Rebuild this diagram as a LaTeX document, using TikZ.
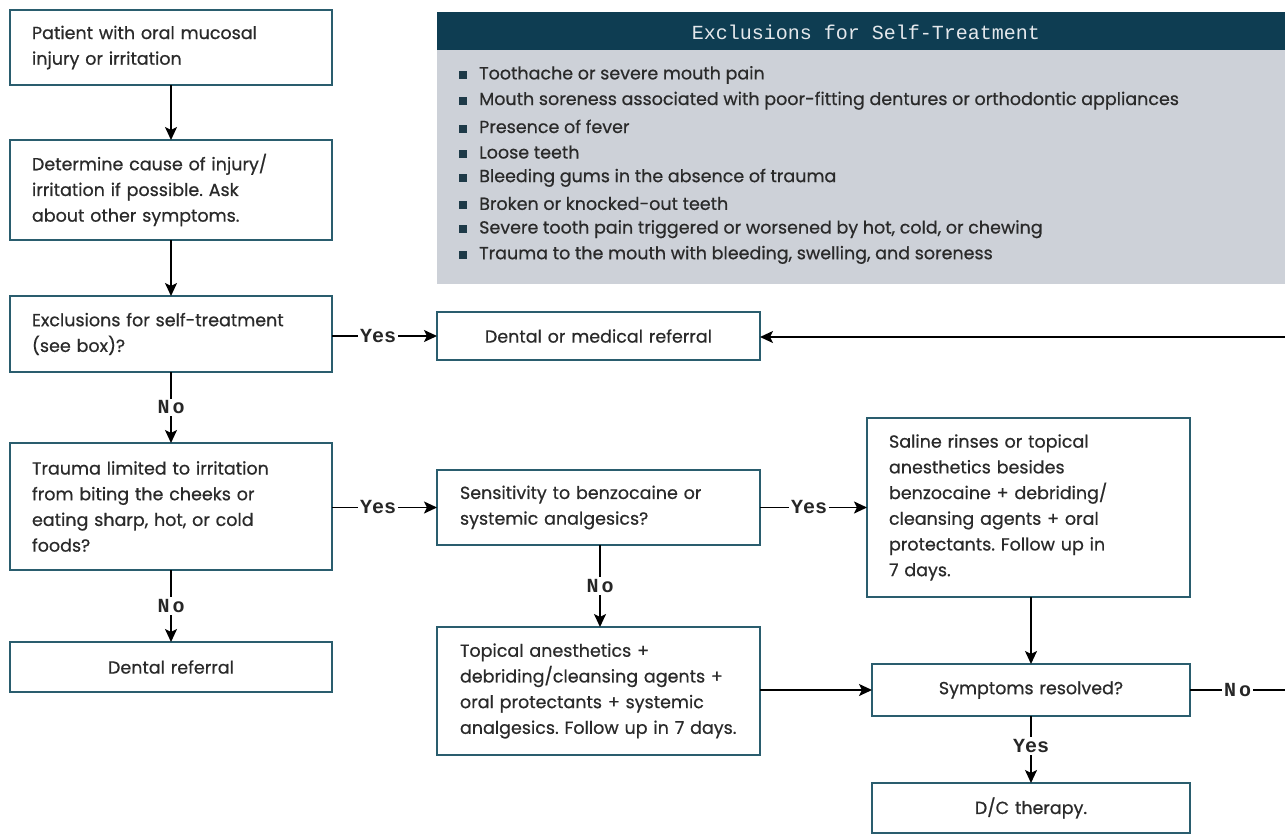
\documentclass[tikz,border=0pt]{standalone}
\usepackage{fontspec}
\usetikzlibrary{arrows.meta}
\setmainfont{Poppins}[FakeBold=0.6]
\newfontfamily\monofam{Liberation Mono}
\definecolor{boxline}{HTML}{2A5D6E}
\definecolor{headfill}{HTML}{0E3D52}
\definecolor{panelfill}{HTML}{CDD1D8}
\definecolor{txt}{HTML}{2A2A2A}
\definecolor{bulletc}{HTML}{1E3A48}
\definecolor{headtxt}{HTML}{E4E8EC}
\definecolor{labtxt}{HTML}{262626}
\newcommand\bodyfont{\frenchspacing\fontsize{17.5}{25.7}\selectfont}
\newcommand\sqbullet{\textcolor{bulletc}{\rule[0.5pt]{8pt}{8pt}}}
\begin{document}
\begin{tikzpicture}[x=1pt,y=-1pt,
  box/.style={draw=boxline, line width=1.8pt, fill=white, text=txt,
    anchor=north west, outer sep=0pt, inner xsep=22pt, inner ysep=0pt,
    font=\bodyfont, align=left},
  cbox/.style={box, align=center},
  midbox/.style={box, minimum width=323pt, inner xsep=23pt, text width=277pt},
  arr/.style={draw=black, line width=1.9pt, -{Stealth[length=13pt,width=12pt,inset=3pt]}},
  plain/.style={draw=black, line width=1.9pt},
  lab/.style={fill=white, inner sep=2pt, text=labtxt, font=\monofam\bfseries\fontsize{20}{20}\selectfont},
  exitem/.style={anchor=west, inner sep=0pt, text=txt, font=\bodyfont}]
\useasboundingbox (0,0) rectangle (1285,833);

% exclusions panel
\fill[panelfill] (437,12) rectangle (1285,284);
\fill[headfill] (437,12) rectangle (1285,50);
\node[text=headtxt, font=\monofam\fontsize{20}{20}\selectfont] (exhead) at (866,32) {Exclusions for Self-Treatment};
\foreach \t [count=\i from 0] in {Toothache or severe mouth pain,
  Mouth soreness associated with poor-fitting dentures or orthodontic appliances,
  Presence of fever, Loose teeth, Bleeding gums in the absence of trauma,
  Broken or knocked-out teeth,
  {Severe tooth pain triggered or worsened by hot, cold, or chewing},
  {Trauma to the mouth with bleeding, swelling, and soreness}}
  \node[exitem] (ex\i) at (459,75+25.7*\i) {\sqbullet\hspace{12pt}\t};

% left column
\node[box, minimum width=322pt, minimum height=75pt, text width=278pt] (b1) at (10,10)
  {Patient with oral mucosal\\injury or irritation};
\node[box, minimum width=322pt, minimum height=100pt, text width=278pt] (b2) at (10,140)
  {Determine cause of injury/\\irritation if possible. Ask\\about other symptoms.};
\node[box, minimum width=322pt, minimum height=76pt, text width=278pt] (b3) at (10,296)
  {Exclusions for self-treatment\\(see box)?};
\node[box, minimum width=322pt, minimum height=127pt, text width=278pt] (b4) at (10,443)
  {Trauma limited to irritation\\from biting the cheeks or\\eating sharp, hot, or cold\\foods?};
\node[cbox, minimum width=322pt, minimum height=50pt, text width=278pt] (b5) at (10,642)
  {Dental referral};

% middle column
\node[cbox, minimum width=323pt, minimum height=48pt, text width=279pt] (ref) at (437,312)
  {Dental or medical referral};
\node[midbox, minimum height=75pt] (sens) at (437,470)
  {Sensitivity to benzocaine or\\systemic analgesics?};
\node[midbox, minimum height=128pt] (top) at (437,627)
  {Topical anesthetics +\\debriding/cleansing agents +\\oral protectants + systemic\\analgesics. Follow up in 7 days.};

% right column
\node[box, minimum width=323pt, minimum height=179pt, text width=279pt] (sal) at (867,418)
  {Saline rinses or topical\\anesthetics besides\\benzocaine + debriding/\\cleansing agents + oral\\protectants. Follow up in\\7 days.};
\node[cbox, minimum width=318pt, minimum height=52pt, text width=274pt] (sym) at (872,664)
  {Symptoms resolved?};
\node[cbox, minimum width=318pt, minimum height=50pt, text width=274pt] (dc) at (872,783)
  {D/C therapy.};

% off-page ends of the loop back to referral
\coordinate (loopin) at (1285,337);
\coordinate (loopout) at (1285,690);

% connectors
\draw[arr] (b1.south) -- (b2.north);
\draw[arr] (b2.south) -- (b3.north);
\draw[arr] (b3.south) -- node[lab]{N\kern3pt o} (b4.north);
\draw[arr] (b4.south) -- node[lab]{N\kern3pt o} (b5.north);
\draw[arr] (b3.east |- ref.west) -- node[lab, pos=0.44]{Yes} (ref.west);
\draw[arr] (b4.east |- sens.west) -- node[lab, pos=0.44]{Yes} (sens.west);
\draw[arr] (sens.east) -- node[lab, pos=0.46]{Yes} (sens.east -| sal.west);
\draw[arr] (sens.south -| 600,0) -- node[lab]{N\kern3pt o} (top.north -| 600,0);
\draw[arr] (top.east |- sym.west) -- (sym.west);
\draw[arr] (sal.south -| sym.north) -- (sym.north);
\draw[arr] (sym.south) -- node[lab, pos=0.45]{Yes} (dc.north);
\draw[plain] (sym.east) -- node[lab]{N\kern3pt o} (loopout);
\draw[arr] (loopin) -- (ref.east |- loopin);
\end{tikzpicture}
\end{document}
